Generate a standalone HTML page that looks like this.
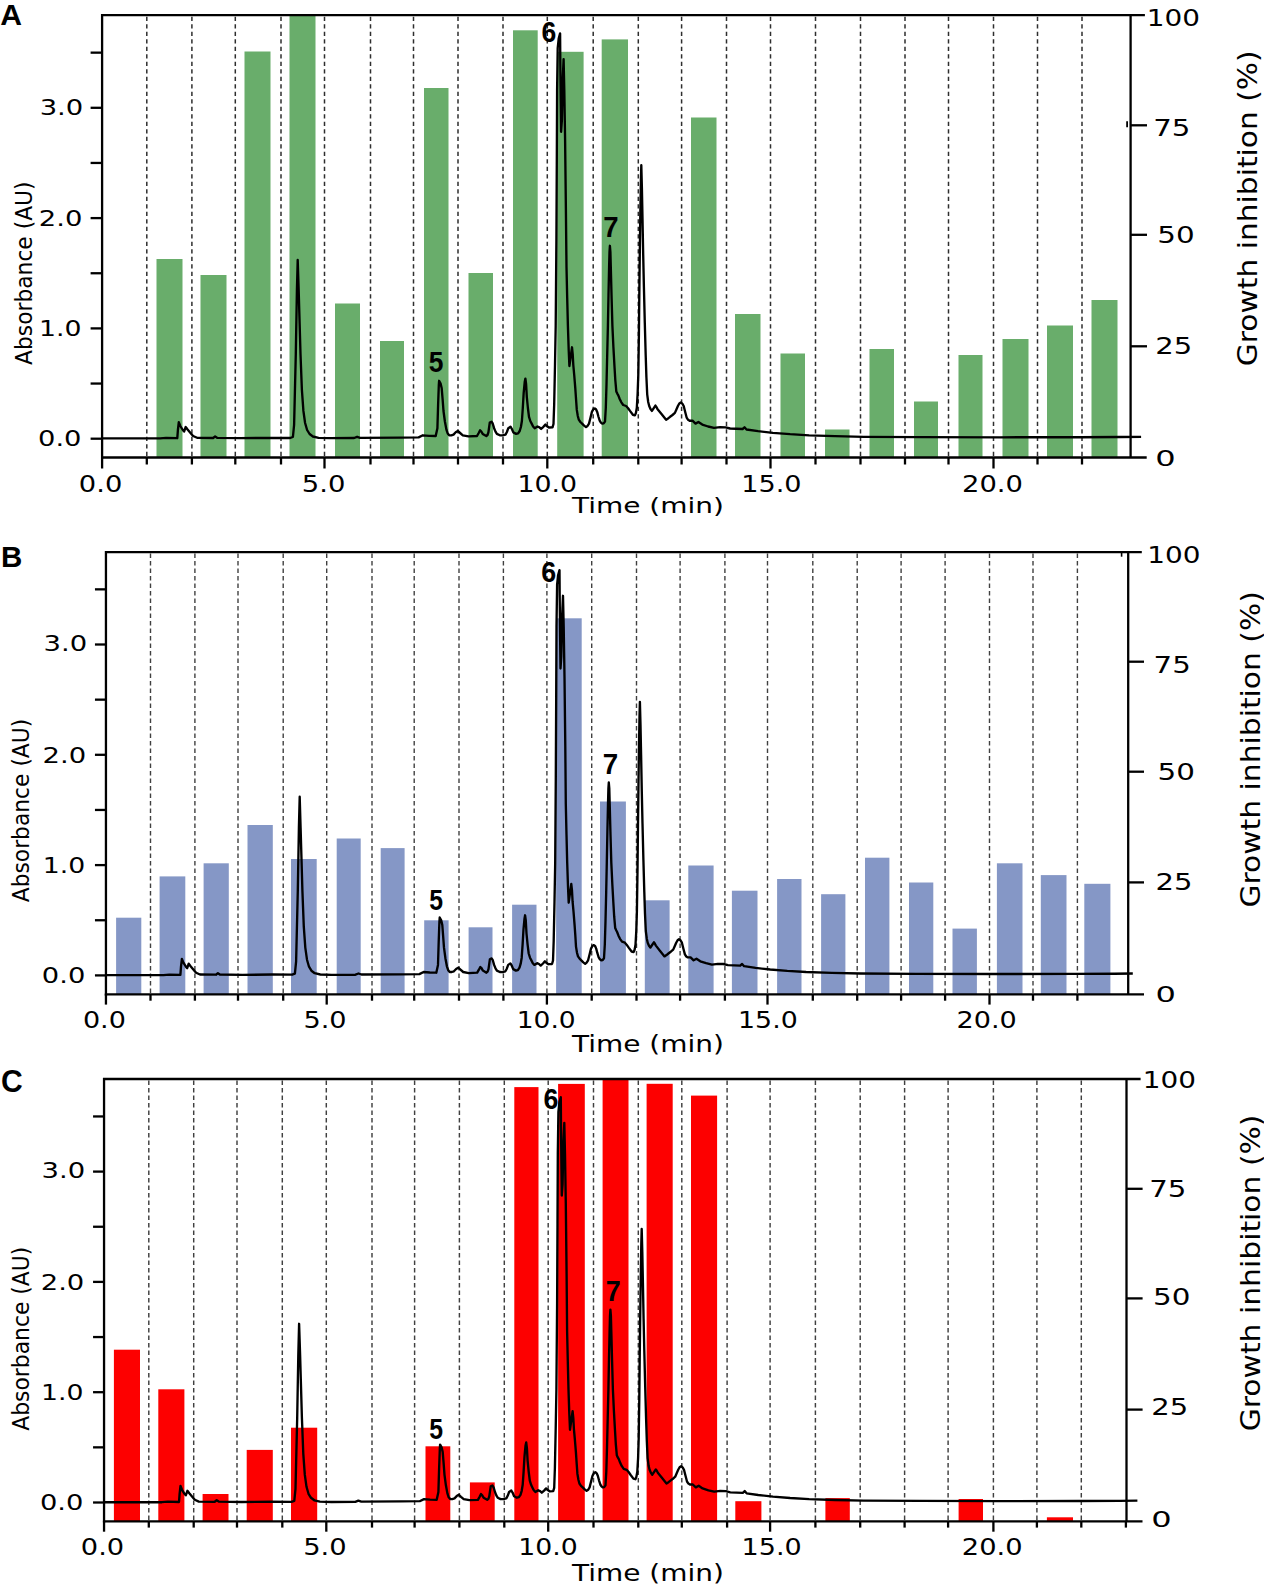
<!DOCTYPE html>
<html lang="en"><head><meta charset="utf-8"><title>HPLC chromatograms with growth inhibition</title>
<style>html,body{margin:0;padding:0;background:#fff}svg{display:block}</style></head><body>
<svg width="1264" height="1586" viewBox="0 0 1264 1586">
<rect width="1264" height="1586" fill="#fff"/>
<g id="panelA">
<g fill="#69ad6b">
<rect x="156.5" y="259.0" width="26.0" height="198.5"/>
<rect x="200.5" y="275.0" width="26.0" height="182.5"/>
<rect x="244.5" y="51.5" width="26.0" height="406.0"/>
<rect x="289.5" y="15.2" width="26.0" height="442.3"/>
<rect x="335.0" y="303.5" width="25.0" height="154.0"/>
<rect x="380.0" y="341.0" width="24.0" height="116.5"/>
<rect x="424.0" y="88.0" width="24.5" height="369.5"/>
<rect x="468.5" y="273.0" width="24.5" height="184.5"/>
<rect x="513.0" y="30.3" width="24.7" height="427.2"/>
<rect x="557.2" y="51.8" width="26.4" height="405.7"/>
<rect x="601.7" y="39.4" width="26.3" height="418.1"/>
<rect x="691.0" y="117.5" width="25.5" height="340.0"/>
<rect x="735.0" y="314.0" width="25.5" height="143.5"/>
<rect x="780.5" y="353.5" width="24.5" height="104.0"/>
<rect x="825.0" y="429.5" width="24.5" height="28.0"/>
<rect x="869.5" y="349.0" width="24.5" height="108.5"/>
<rect x="914.0" y="401.5" width="24.0" height="56.0"/>
<rect x="958.5" y="355.0" width="24.0" height="102.5"/>
<rect x="1002.5" y="339.0" width="26.0" height="118.5"/>
<rect x="1047.0" y="325.5" width="26.0" height="132.0"/>
<rect x="1091.5" y="300.0" width="26.0" height="157.5"/>
</g>
<g stroke="#2e2e2e" stroke-width="1.5" stroke-dasharray="4.4 3.1" fill="none">
<line x1="146.8" y1="16.7" x2="146.8" y2="457.5"/>
<line x1="191.9" y1="16.7" x2="191.9" y2="457.5"/>
<line x1="235.3" y1="16.7" x2="235.3" y2="457.5"/>
<line x1="281.0" y1="16.7" x2="281.0" y2="457.5"/>
<line x1="324.5" y1="16.7" x2="324.5" y2="457.5"/>
<line x1="370.5" y1="16.7" x2="370.5" y2="457.5"/>
<line x1="413.5" y1="16.7" x2="413.5" y2="457.5"/>
<line x1="458.0" y1="16.7" x2="458.0" y2="457.5"/>
<line x1="503.0" y1="16.7" x2="503.0" y2="457.5"/>
<line x1="547.3" y1="16.7" x2="547.3" y2="457.5"/>
<line x1="593.2" y1="16.7" x2="593.2" y2="457.5"/>
<line x1="638.3" y1="16.7" x2="638.3" y2="457.5"/>
<line x1="681.6" y1="16.7" x2="681.6" y2="457.5"/>
<line x1="726.5" y1="16.7" x2="726.5" y2="457.5"/>
<line x1="770.5" y1="16.7" x2="770.5" y2="457.5"/>
<line x1="815.5" y1="16.7" x2="815.5" y2="457.5"/>
<line x1="860.5" y1="16.7" x2="860.5" y2="457.5"/>
<line x1="905.0" y1="16.7" x2="905.0" y2="457.5"/>
<line x1="948.5" y1="16.7" x2="948.5" y2="457.5"/>
<line x1="993.5" y1="16.7" x2="993.5" y2="457.5"/>
<line x1="1037.5" y1="16.7" x2="1037.5" y2="457.5"/>
<line x1="1082.0" y1="16.7" x2="1082.0" y2="457.5"/>
</g>
<polyline points="102.1,438.4 160.1,438.4 166.1,437.9 177.3,438.2 177.9,430.0 178.8,422.2 180.3,426.0 182.8,430.0 184.1,431.5 185.7,427.0 187.6,429.5 190.1,432.5 193.1,436.0 197.1,437.8 213.1,438.0 215.1,436.5 217.1,437.8 240.1,438.2 270.1,437.8 290.1,438.0 292.9,437.0 294.1,425.0 295.8,354.0 296.9,291.0 297.7,260.0 298.7,291.0 300.5,354.0 301.9,390.0 303.4,410.9 305.1,423.0 307.1,430.0 309.6,434.0 312.9,436.5 318.6,437.8 330.1,438.2 354.1,438.0 357.1,436.8 360.1,437.8 400.1,437.6 418.6,437.4 422.9,435.3 429.1,435.8 435.7,436.0 437.4,428.2 438.1,405.0 438.8,385.4 439.1,380.8 440.6,383.5 441.7,388.3 442.6,399.0 443.5,411.0 444.9,421.5 446.4,429.6 447.7,433.5 449.2,435.3 451.3,435.3 453.5,434.6 455.7,432.3 457.8,431.0 460.1,433.0 462.8,435.3 468.5,436.4 477.0,436.0 478.7,433.0 480.1,430.3 481.3,431.5 482.7,433.9 486.3,436.0 487.5,435.0 488.4,432.4 489.8,422.5 491.5,421.7 492.7,423.5 494.1,428.2 495.5,431.6 496.9,433.9 499.8,435.3 502.6,435.4 505.5,434.6 506.9,432.0 508.3,428.2 510.5,426.7 511.9,429.0 513.3,432.4 516.1,433.9 518.1,433.4 519.7,431.0 520.9,427.0 521.9,421.0 522.8,408.0 523.7,392.6 524.7,382.0 525.4,378.6 526.1,384.0 526.8,396.8 527.9,408.0 529.0,416.8 530.3,421.0 531.8,423.9 533.1,426.5 534.7,428.2 537.5,426.5 539.4,427.3 541.1,428.9 543.4,426.8 545.4,424.6 547.1,426.3 548.9,427.5 552.5,427.3 553.5,424.0 554.2,404.0 555.0,365.0 555.7,325.9 556.4,240.0 556.8,160.0 557.1,90.0 557.7,48.0 558.7,38.5 560.1,33.4 560.3,60.0 560.7,100.0 561.1,131.8 561.9,120.0 562.7,80.0 563.6,59.1 564.3,90.0 565.1,140.0 565.9,210.0 566.5,267.3 567.2,298.0 567.9,325.9 568.7,350.0 569.4,366.0 570.5,358.0 572.0,347.3 572.7,354.0 573.3,365.0 574.3,376.0 575.3,388.4 576.1,400.0 576.8,409.9 577.8,416.0 578.8,419.7 580.4,422.0 582.1,423.6 584.1,425.6 586.0,427.1 587.5,426.0 589.0,423.6 590.4,418.0 591.9,411.9 593.3,409.3 594.8,408.4 596.1,409.5 597.2,411.9 598.4,416.5 599.7,420.7 600.9,422.6 602.2,423.6 603.7,423.3 605.0,421.6 605.8,408.0 606.5,384.5 607.2,355.0 607.9,325.9 608.5,295.0 609.1,267.3 609.5,252.0 609.9,245.8 610.4,252.0 610.8,267.3 611.6,298.0 612.4,325.9 613.4,347.0 614.4,365.0 615.3,380.0 616.3,391.4 617.3,393.6 618.3,395.3 619.7,399.0 621.2,402.1 623.2,405.0 626.1,406.0 628.1,408.2 630.0,410.9 632.9,414.8 634.9,415.4 635.9,413.0 636.8,408.0 637.6,394.0 638.3,374.7 638.9,335.0 639.4,286.8 639.9,245.0 640.4,208.6 640.9,180.0 641.3,165.2 641.9,188.0 642.5,218.4 643.2,255.0 643.9,286.8 644.8,323.0 645.7,355.2 646.4,377.0 647.2,394.3 648.2,402.0 649.2,406.0 650.5,409.0 651.9,410.9 653.6,408.3 655.4,405.6 656.4,407.0 657.4,408.9 661.3,413.8 666.1,419.7 668.1,418.4 670.1,416.8 672.5,415.0 674.9,412.9 676.4,409.5 677.9,406.0 679.3,403.5 680.8,402.5 682.3,403.6 683.7,406.0 685.2,412.0 686.7,417.7 688.1,419.8 689.6,420.7 692.5,420.7 695.5,423.6 698.4,422.0 702.3,424.6 708.1,426.5 714.0,427.9 720.1,427.1 725.6,427.3 730.1,428.5 742.6,429.0 744.5,427.3 746.5,429.5 758.1,431.2 772.9,432.8 790.1,434.2 809.1,435.3 835.1,436.2 863.9,436.8 920.1,437.1 1000.1,437.3 1080.1,437.2 1120.1,437.0 1141.1,436.8" fill="none" stroke="#000" stroke-width="2.35" stroke-linejoin="round" stroke-linecap="butt"/>
<g stroke="#000" stroke-width="2.3" fill="none" stroke-linecap="butt">
<path d="M102.10,458.60 V15.20 H1144.90"/>
<path d="M1130.60,15.20 V457.50"/>
<path d="M101.00,457.50 H1146.70"/>
<line x1="90.60" y1="438.70" x2="102.10" y2="438.70"/>
<line x1="90.60" y1="383.55" x2="102.10" y2="383.55"/>
<line x1="90.60" y1="328.40" x2="102.10" y2="328.40"/>
<line x1="90.60" y1="273.25" x2="102.10" y2="273.25"/>
<line x1="90.60" y1="218.10" x2="102.10" y2="218.10"/>
<line x1="90.60" y1="162.95" x2="102.10" y2="162.95"/>
<line x1="90.60" y1="107.80" x2="102.10" y2="107.80"/>
<line x1="90.60" y1="52.65" x2="102.10" y2="52.65"/>
<line x1="1130.60" y1="346.30" x2="1147.00" y2="346.30"/>
<line x1="1130.60" y1="234.80" x2="1147.00" y2="234.80"/>
<line x1="1130.60" y1="125.30" x2="1147.00" y2="125.30"/>
<line x1="102.10" y1="457.50" x2="102.10" y2="468.50"/>
<line x1="146.80" y1="457.50" x2="146.80" y2="464.50"/>
<line x1="191.90" y1="457.50" x2="191.90" y2="464.50"/>
<line x1="235.30" y1="457.50" x2="235.30" y2="464.50"/>
<line x1="281.00" y1="457.50" x2="281.00" y2="464.50"/>
<line x1="324.50" y1="457.50" x2="324.50" y2="468.50"/>
<line x1="370.50" y1="457.50" x2="370.50" y2="464.50"/>
<line x1="413.50" y1="457.50" x2="413.50" y2="464.50"/>
<line x1="458.00" y1="457.50" x2="458.00" y2="464.50"/>
<line x1="503.00" y1="457.50" x2="503.00" y2="464.50"/>
<line x1="547.30" y1="457.50" x2="547.30" y2="468.50"/>
<line x1="593.20" y1="457.50" x2="593.20" y2="464.50"/>
<line x1="638.30" y1="457.50" x2="638.30" y2="464.50"/>
<line x1="681.60" y1="457.50" x2="681.60" y2="464.50"/>
<line x1="726.50" y1="457.50" x2="726.50" y2="464.50"/>
<line x1="770.50" y1="457.50" x2="770.50" y2="468.50"/>
<line x1="815.50" y1="457.50" x2="815.50" y2="464.50"/>
<line x1="860.50" y1="457.50" x2="860.50" y2="464.50"/>
<line x1="905.00" y1="457.50" x2="905.00" y2="464.50"/>
<line x1="948.50" y1="457.50" x2="948.50" y2="464.50"/>
<line x1="993.50" y1="457.50" x2="993.50" y2="468.50"/>
<line x1="1037.50" y1="457.50" x2="1037.50" y2="464.50"/>
<line x1="1082.00" y1="457.50" x2="1082.00" y2="464.50"/>
<line x1="1127.10" y1="121.3" x2="1127.10" y2="127.2" stroke-width="1.8"/>
</g>
</g>
<g id="panelB">
<g fill="#8597c6">
<rect x="116.1" y="917.7" width="25.2" height="76.6"/>
<rect x="159.6" y="876.4" width="25.7" height="117.9"/>
<rect x="203.6" y="863.3" width="25.2" height="131.0"/>
<rect x="247.5" y="825.0" width="25.3" height="169.3"/>
<rect x="291.0" y="859.0" width="25.7" height="135.3"/>
<rect x="336.7" y="838.5" width="24.0" height="155.8"/>
<rect x="380.7" y="848.1" width="23.9" height="146.2"/>
<rect x="424.2" y="920.3" width="24.4" height="74.0"/>
<rect x="468.6" y="927.3" width="23.9" height="67.0"/>
<rect x="512.1" y="904.7" width="24.4" height="89.6"/>
<rect x="556.1" y="618.3" width="25.6" height="376.0"/>
<rect x="600.0" y="801.5" width="25.9" height="192.8"/>
<rect x="644.8" y="900.3" width="24.8" height="94.0"/>
<rect x="688.3" y="865.5" width="25.3" height="128.8"/>
<rect x="731.9" y="890.7" width="25.6" height="103.6"/>
<rect x="777.1" y="879.0" width="24.4" height="115.3"/>
<rect x="821.1" y="894.2" width="24.3" height="100.1"/>
<rect x="865.0" y="857.7" width="24.4" height="136.6"/>
<rect x="909.0" y="882.5" width="24.3" height="111.8"/>
<rect x="952.5" y="928.6" width="24.4" height="65.7"/>
<rect x="996.9" y="863.3" width="25.6" height="131.0"/>
<rect x="1040.8" y="875.1" width="25.7" height="119.2"/>
<rect x="1084.3" y="883.8" width="26.1" height="110.5"/>
</g>
<g stroke="#404040" stroke-width="1.4" stroke-dasharray="4.4 3.1" fill="none">
<line x1="150.5" y1="553.6" x2="150.5" y2="994.3"/>
<line x1="194.9" y1="553.6" x2="194.9" y2="994.3"/>
<line x1="238.0" y1="553.6" x2="238.0" y2="994.3"/>
<line x1="283.2" y1="553.6" x2="283.2" y2="994.3"/>
<line x1="326.7" y1="553.6" x2="326.7" y2="994.3"/>
<line x1="372.0" y1="553.6" x2="372.0" y2="994.3"/>
<line x1="414.2" y1="553.6" x2="414.2" y2="994.3"/>
<line x1="459.0" y1="553.6" x2="459.0" y2="994.3"/>
<line x1="503.4" y1="553.6" x2="503.4" y2="994.3"/>
<line x1="546.9" y1="553.6" x2="546.9" y2="994.3"/>
<line x1="591.7" y1="553.6" x2="591.7" y2="994.3"/>
<line x1="636.5" y1="553.6" x2="636.5" y2="994.3"/>
<line x1="680.1" y1="553.6" x2="680.1" y2="994.3"/>
<line x1="724.9" y1="553.6" x2="724.9" y2="994.3"/>
<line x1="767.5" y1="553.6" x2="767.5" y2="994.3"/>
<line x1="812.8" y1="553.6" x2="812.8" y2="994.3"/>
<line x1="857.2" y1="553.6" x2="857.2" y2="994.3"/>
<line x1="901.1" y1="553.6" x2="901.1" y2="994.3"/>
<line x1="945.1" y1="553.6" x2="945.1" y2="994.3"/>
<line x1="989.5" y1="553.6" x2="989.5" y2="994.3"/>
<line x1="1033.0" y1="553.6" x2="1033.0" y2="994.3"/>
<line x1="1077.4" y1="553.6" x2="1077.4" y2="994.3"/>
</g>
<polyline points="106.0,975.1 163.4,975.1 169.3,974.6 180.4,974.9 181.0,966.7 181.9,958.9 183.4,962.7 185.9,966.7 187.2,968.2 188.7,963.7 190.6,966.2 193.1,969.2 196.1,972.7 200.0,974.5 215.9,974.7 217.9,973.2 219.8,974.5 242.6,974.9 272.3,974.5 292.1,974.7 294.9,973.7 296.1,961.7 297.8,890.7 298.9,827.7 299.7,796.7 300.6,827.7 302.4,890.7 303.8,926.7 305.3,947.6 307.0,959.7 309.0,966.7 311.4,970.7 314.7,973.2 320.3,974.5 331.7,974.9 355.5,974.7 358.5,973.5 361.4,974.5 401.1,974.3 419.4,974.1 423.6,972.0 429.8,972.5 436.3,972.7 438.0,964.9 438.7,941.7 439.4,922.1 439.7,917.5 441.2,920.2 442.3,925.0 443.1,935.7 444.0,947.7 445.4,958.2 446.9,966.3 448.2,970.2 449.7,972.0 451.8,972.0 453.9,971.3 456.1,969.0 458.2,967.7 460.5,969.7 463.2,972.0 468.8,973.1 477.2,972.7 478.9,969.7 480.3,967.0 481.5,968.2 482.9,970.6 486.4,972.7 487.6,971.7 488.5,969.1 489.9,959.2 491.6,958.4 492.8,960.2 494.1,964.9 495.5,968.3 496.9,970.6 499.8,972.0 502.6,972.1 505.4,971.3 506.8,968.7 508.2,964.9 510.4,963.4 511.8,965.7 513.2,969.1 515.9,970.6 517.9,970.1 519.5,967.7 520.7,963.7 521.7,957.7 522.6,944.7 523.5,929.3 524.5,918.7 525.1,915.3 525.8,920.7 526.5,933.5 527.6,944.7 528.7,953.5 530.0,957.7 531.5,960.6 532.8,963.2 534.4,964.9 537.1,963.2 539.0,964.0 540.7,965.6 543.0,963.5 544.9,961.3 546.6,963.0 548.4,964.2 552.0,964.0 553.0,960.7 553.7,940.7 554.5,901.7 555.2,862.6 555.8,776.7 556.2,696.7 556.5,626.7 557.1,584.7 558.1,575.2 559.5,570.1 559.7,596.7 560.1,636.7 560.5,668.5 561.3,656.7 562.1,616.7 563.0,595.8 563.7,626.7 564.5,676.7 565.3,746.7 565.8,804.0 566.5,834.7 567.2,862.6 568.0,886.7 568.7,902.7 569.8,894.7 571.3,884.0 572.0,890.7 572.6,901.7 573.6,912.7 574.6,925.1 575.4,936.7 576.0,946.6 577.0,952.7 578.0,956.4 579.6,958.7 581.3,960.3 583.3,962.3 585.2,963.8 586.6,962.7 588.1,960.3 589.5,954.7 591.0,948.6 592.4,946.0 593.9,945.1 595.2,946.2 596.2,948.6 597.4,953.2 598.7,957.4 599.9,959.3 601.2,960.3 602.7,960.0 604.0,958.3 604.8,944.7 605.5,921.2 606.2,891.7 606.8,862.6 607.4,831.7 608.0,804.0 608.4,788.7 608.8,782.5 609.3,788.7 609.7,804.0 610.5,834.7 611.3,862.6 612.3,883.7 613.3,901.7 614.2,916.7 615.2,928.1 616.2,930.3 617.1,932.0 618.5,935.7 620.0,938.8 622.0,941.7 624.9,942.7 626.8,944.9 628.7,947.6 631.6,951.5 633.6,952.1 634.6,949.7 635.5,944.7 636.3,930.7 636.9,911.4 637.5,871.7 638.0,823.5 638.5,781.7 639.0,745.3 639.5,716.7 639.9,701.9 640.5,724.7 641.1,755.1 641.8,791.7 642.5,823.5 643.4,859.7 644.3,891.9 645.0,913.7 645.8,931.0 646.8,938.7 647.7,942.7 649.0,945.7 650.4,947.6 652.1,945.0 653.9,942.3 654.9,943.7 655.9,945.6 659.7,950.5 664.5,956.4 666.5,955.1 668.4,953.5 670.8,951.7 673.2,949.6 674.7,946.2 676.2,942.7 677.6,940.2 679.0,939.2 680.5,940.3 681.9,942.7 683.4,948.7 684.9,954.4 686.3,956.5 687.8,957.4 690.6,957.4 693.6,960.3 696.5,958.7 700.3,961.3 706.1,963.2 711.9,964.6 718.0,963.8 723.4,964.0 727.9,965.2 740.2,965.7 742.1,964.0 744.1,966.2 755.6,967.9 770.2,969.5 787.3,970.9 806.1,972.0 831.8,972.9 860.4,973.5 916.0,973.8 995.2,974.0 1074.5,973.9 1114.1,973.7 1132.8,973.5" fill="none" stroke="#000" stroke-width="2.35" stroke-linejoin="round" stroke-linecap="butt"/>
<g stroke="#000" stroke-width="2.3" fill="none" stroke-linecap="butt">
<path d="M105.95,995.40 V552.10 H1141.80"/>
<path d="M1128.20,552.10 V994.30"/>
<path d="M104.85,994.30 H1144.00"/>
<line x1="94.95" y1="975.40" x2="105.95" y2="975.40"/>
<line x1="94.95" y1="920.25" x2="105.95" y2="920.25"/>
<line x1="94.95" y1="865.10" x2="105.95" y2="865.10"/>
<line x1="94.95" y1="809.95" x2="105.95" y2="809.95"/>
<line x1="94.95" y1="754.80" x2="105.95" y2="754.80"/>
<line x1="94.95" y1="699.65" x2="105.95" y2="699.65"/>
<line x1="94.95" y1="644.50" x2="105.95" y2="644.50"/>
<line x1="94.95" y1="589.35" x2="105.95" y2="589.35"/>
<line x1="1128.20" y1="882.40" x2="1144.00" y2="882.40"/>
<line x1="1128.20" y1="771.70" x2="1144.00" y2="771.70"/>
<line x1="1128.20" y1="661.70" x2="1144.00" y2="661.70"/>
<line x1="105.95" y1="994.30" x2="105.95" y2="1004.60"/>
<line x1="150.50" y1="994.30" x2="150.50" y2="1000.70"/>
<line x1="194.90" y1="994.30" x2="194.90" y2="1000.70"/>
<line x1="238.00" y1="994.30" x2="238.00" y2="1000.70"/>
<line x1="283.20" y1="994.30" x2="283.20" y2="1000.70"/>
<line x1="326.70" y1="994.30" x2="326.70" y2="1004.60"/>
<line x1="372.00" y1="994.30" x2="372.00" y2="1000.70"/>
<line x1="414.20" y1="994.30" x2="414.20" y2="1000.70"/>
<line x1="459.00" y1="994.30" x2="459.00" y2="1000.70"/>
<line x1="503.40" y1="994.30" x2="503.40" y2="1000.70"/>
<line x1="546.90" y1="994.30" x2="546.90" y2="1004.60"/>
<line x1="591.70" y1="994.30" x2="591.70" y2="1000.70"/>
<line x1="636.50" y1="994.30" x2="636.50" y2="1000.70"/>
<line x1="680.10" y1="994.30" x2="680.10" y2="1000.70"/>
<line x1="724.90" y1="994.30" x2="724.90" y2="1000.70"/>
<line x1="767.50" y1="994.30" x2="767.50" y2="1004.60"/>
<line x1="812.80" y1="994.30" x2="812.80" y2="1000.70"/>
<line x1="857.20" y1="994.30" x2="857.20" y2="1000.70"/>
<line x1="901.10" y1="994.30" x2="901.10" y2="1000.70"/>
<line x1="945.10" y1="994.30" x2="945.10" y2="1000.70"/>
<line x1="989.50" y1="994.30" x2="989.50" y2="1004.60"/>
<line x1="1033.00" y1="994.30" x2="1033.00" y2="1000.70"/>
<line x1="1077.40" y1="994.30" x2="1077.40" y2="1000.70"/>
<line x1="1121.6" y1="552.10" x2="1121.6" y2="556.70" stroke-width="1.6"/>
</g>
</g>
<g id="panelC">
<g fill="#fd0000">
<rect x="113.9" y="1349.7" width="26.1" height="171.6"/>
<rect x="158.3" y="1389.3" width="26.1" height="132.0"/>
<rect x="202.6" y="1494.0" width="25.9" height="27.3"/>
<rect x="246.7" y="1449.9" width="26.1" height="71.4"/>
<rect x="291.0" y="1427.7" width="26.2" height="93.6"/>
<rect x="425.5" y="1446.3" width="24.8" height="75.0"/>
<rect x="469.9" y="1482.4" width="24.8" height="38.9"/>
<rect x="514.3" y="1087.1" width="24.2" height="434.2"/>
<rect x="558.1" y="1083.9" width="26.7" height="437.4"/>
<rect x="602.6" y="1079.0" width="25.9" height="442.3"/>
<rect x="646.6" y="1083.8" width="26.1" height="437.5"/>
<rect x="691.0" y="1095.6" width="26.1" height="425.7"/>
<rect x="735.3" y="1501.2" width="26.1" height="20.1"/>
<rect x="825.4" y="1498.1" width="24.4" height="23.2"/>
<rect x="958.6" y="1499.0" width="24.4" height="22.3"/>
<rect x="1046.9" y="1517.3" width="26.1" height="4.0"/>
</g>
<g stroke="#404040" stroke-width="1.45" stroke-dasharray="4.4 3.1" fill="none">
<line x1="148.8" y1="1080.5" x2="148.8" y2="1521.3"/>
<line x1="193.7" y1="1080.5" x2="193.7" y2="1521.3"/>
<line x1="237.0" y1="1080.5" x2="237.0" y2="1521.3"/>
<line x1="282.3" y1="1080.5" x2="282.3" y2="1521.3"/>
<line x1="326.3" y1="1080.5" x2="326.3" y2="1521.3"/>
<line x1="372.0" y1="1080.5" x2="372.0" y2="1521.3"/>
<line x1="414.6" y1="1080.5" x2="414.6" y2="1521.3"/>
<line x1="459.4" y1="1080.5" x2="459.4" y2="1521.3"/>
<line x1="504.3" y1="1080.5" x2="504.3" y2="1521.3"/>
<line x1="548.2" y1="1080.5" x2="548.2" y2="1521.3"/>
<line x1="593.5" y1="1080.5" x2="593.5" y2="1521.3"/>
<line x1="638.3" y1="1080.5" x2="638.3" y2="1521.3"/>
<line x1="681.8" y1="1080.5" x2="681.8" y2="1521.3"/>
<line x1="727.1" y1="1080.5" x2="727.1" y2="1521.3"/>
<line x1="770.1" y1="1080.5" x2="770.1" y2="1521.3"/>
<line x1="815.4" y1="1080.5" x2="815.4" y2="1521.3"/>
<line x1="860.2" y1="1080.5" x2="860.2" y2="1521.3"/>
<line x1="904.6" y1="1080.5" x2="904.6" y2="1521.3"/>
<line x1="948.1" y1="1080.5" x2="948.1" y2="1521.3"/>
<line x1="993.4" y1="1080.5" x2="993.4" y2="1521.3"/>
<line x1="1036.9" y1="1080.5" x2="1036.9" y2="1521.3"/>
<line x1="1081.3" y1="1080.5" x2="1081.3" y2="1521.3"/>
</g>
<polyline points="104.0,1502.2 161.9,1502.2 167.9,1501.7 179.0,1502.0 179.6,1493.8 180.5,1486.0 182.0,1489.8 184.5,1493.8 185.8,1495.3 187.4,1490.8 189.3,1493.3 191.8,1496.3 194.8,1499.8 198.8,1501.6 214.7,1501.8 216.7,1500.3 218.7,1501.6 241.7,1502.0 271.6,1501.6 291.5,1501.8 294.3,1500.8 295.5,1488.8 297.2,1417.8 298.3,1354.8 299.1,1323.8 300.1,1354.8 301.9,1417.8 303.3,1453.8 304.8,1474.7 306.5,1486.8 308.5,1493.8 311.0,1497.8 314.3,1500.3 319.9,1501.6 331.4,1502.0 355.3,1501.8 358.3,1500.6 361.3,1501.6 401.2,1501.4 419.7,1501.2 424.0,1499.1 430.1,1499.6 436.7,1499.8 438.4,1492.0 439.1,1468.8 439.8,1449.2 440.1,1444.6 441.6,1447.3 442.7,1452.1 443.6,1462.8 444.5,1474.8 445.9,1485.3 447.4,1493.4 448.7,1497.3 450.2,1499.1 452.3,1499.1 454.5,1498.4 456.7,1496.1 458.8,1494.8 461.0,1496.8 463.7,1499.1 469.4,1500.2 477.9,1499.8 479.6,1496.8 481.0,1494.1 482.2,1495.3 483.6,1497.7 487.2,1499.8 488.4,1498.8 489.3,1496.2 490.7,1486.3 492.4,1485.5 493.6,1487.3 495.0,1492.0 496.3,1495.4 497.7,1497.7 500.6,1499.1 503.4,1499.2 506.3,1498.4 507.7,1495.8 509.1,1492.0 511.3,1490.5 512.7,1492.8 514.1,1496.2 516.9,1497.7 518.9,1497.2 520.5,1494.8 521.7,1490.8 522.7,1484.8 523.6,1471.8 524.5,1456.4 525.5,1445.8 526.2,1442.4 526.9,1447.8 527.6,1460.6 528.7,1471.8 529.8,1480.6 531.1,1484.8 532.5,1487.7 533.8,1490.3 535.4,1492.0 538.2,1490.3 540.1,1491.1 541.8,1492.7 544.1,1490.6 546.1,1488.4 547.8,1490.1 549.6,1491.3 553.2,1491.1 554.2,1487.8 554.9,1467.8 555.7,1428.8 556.4,1389.7 557.1,1303.8 557.5,1223.8 557.8,1153.8 558.4,1111.8 559.4,1102.3 560.8,1097.2 561.0,1123.8 561.4,1163.8 561.8,1195.6 562.6,1183.8 563.4,1143.8 564.3,1122.9 565.0,1153.8 565.8,1203.8 566.6,1273.8 567.1,1331.1 567.8,1361.8 568.5,1389.7 569.3,1413.8 570.0,1429.8 571.1,1421.8 572.6,1411.1 573.3,1417.8 573.9,1428.8 574.9,1439.8 575.9,1452.2 576.7,1463.8 577.4,1473.7 578.4,1479.8 579.4,1483.5 581.0,1485.8 582.7,1487.4 584.7,1489.4 586.6,1490.9 588.1,1489.8 589.6,1487.4 591.0,1481.8 592.5,1475.7 593.9,1473.1 595.4,1472.2 596.7,1473.3 597.8,1475.7 599.0,1480.3 600.3,1484.5 601.5,1486.4 602.7,1487.4 604.2,1487.1 605.5,1485.4 606.3,1471.8 607.0,1448.3 607.7,1418.8 608.4,1389.7 609.0,1358.8 609.6,1331.1 610.0,1315.8 610.4,1309.6 610.9,1315.8 611.3,1331.1 612.1,1361.8 612.9,1389.7 613.9,1410.8 614.9,1428.8 615.8,1443.8 616.8,1455.2 617.8,1457.4 618.8,1459.1 620.2,1462.8 621.7,1465.9 623.7,1468.8 626.6,1469.8 628.6,1472.0 630.5,1474.7 633.4,1478.6 635.4,1479.2 636.4,1476.8 637.3,1471.8 638.1,1457.8 638.7,1438.5 639.3,1398.8 639.8,1350.6 640.3,1308.8 640.8,1272.4 641.3,1243.8 641.7,1229.0 642.3,1251.8 642.9,1282.2 643.6,1318.8 644.3,1350.6 645.2,1386.8 646.1,1419.0 646.8,1440.8 647.6,1458.1 648.6,1465.8 649.6,1469.8 650.9,1472.8 652.3,1474.7 654.0,1472.1 655.8,1469.4 656.8,1470.8 657.8,1472.7 661.7,1477.6 666.5,1483.5 668.5,1482.2 670.5,1480.6 672.9,1478.8 675.2,1476.7 676.7,1473.3 678.2,1469.8 679.6,1467.3 681.1,1466.3 682.6,1467.4 684.0,1469.8 685.5,1475.8 687.0,1481.5 688.4,1483.6 689.9,1484.5 692.8,1484.5 695.8,1487.4 698.7,1485.8 702.6,1488.4 708.4,1490.3 714.2,1491.7 720.3,1490.9 725.8,1491.1 730.3,1492.3 742.8,1492.8 744.7,1491.1 746.6,1493.3 758.2,1495.0 773.0,1496.6 790.1,1498.0 809.1,1499.1 835.0,1500.0 863.7,1500.6 919.8,1500.9 999.5,1501.1 1079.3,1501.0 1119.2,1500.8 1137.4,1500.6" fill="none" stroke="#000" stroke-width="2.35" stroke-linejoin="round" stroke-linecap="butt"/>
<g stroke="#000" stroke-width="2.3" fill="none" stroke-linecap="butt">
<path d="M104.05,1522.40 V1079.00 H1140.60"/>
<path d="M1126.50,1079.00 V1521.30"/>
<path d="M102.95,1521.30 H1142.50"/>
<line x1="93.05" y1="1502.50" x2="104.05" y2="1502.50"/>
<line x1="93.05" y1="1447.35" x2="104.05" y2="1447.35"/>
<line x1="93.05" y1="1392.20" x2="104.05" y2="1392.20"/>
<line x1="93.05" y1="1337.05" x2="104.05" y2="1337.05"/>
<line x1="93.05" y1="1281.90" x2="104.05" y2="1281.90"/>
<line x1="93.05" y1="1226.75" x2="104.05" y2="1226.75"/>
<line x1="93.05" y1="1171.60" x2="104.05" y2="1171.60"/>
<line x1="93.05" y1="1116.45" x2="104.05" y2="1116.45"/>
<line x1="1126.50" y1="1409.60" x2="1142.60" y2="1409.60"/>
<line x1="1126.50" y1="1298.40" x2="1142.60" y2="1298.40"/>
<line x1="1126.50" y1="1188.80" x2="1142.60" y2="1188.80"/>
<line x1="104.05" y1="1521.30" x2="104.05" y2="1531.70"/>
<line x1="148.80" y1="1521.30" x2="148.80" y2="1527.60"/>
<line x1="193.70" y1="1521.30" x2="193.70" y2="1527.60"/>
<line x1="237.00" y1="1521.30" x2="237.00" y2="1527.60"/>
<line x1="282.30" y1="1521.30" x2="282.30" y2="1527.60"/>
<line x1="326.30" y1="1521.30" x2="326.30" y2="1531.70"/>
<line x1="372.00" y1="1521.30" x2="372.00" y2="1527.60"/>
<line x1="414.60" y1="1521.30" x2="414.60" y2="1527.60"/>
<line x1="459.40" y1="1521.30" x2="459.40" y2="1527.60"/>
<line x1="504.30" y1="1521.30" x2="504.30" y2="1527.60"/>
<line x1="548.20" y1="1521.30" x2="548.20" y2="1531.70"/>
<line x1="593.50" y1="1521.30" x2="593.50" y2="1527.60"/>
<line x1="638.30" y1="1521.30" x2="638.30" y2="1527.60"/>
<line x1="681.80" y1="1521.30" x2="681.80" y2="1527.60"/>
<line x1="727.10" y1="1521.30" x2="727.10" y2="1527.60"/>
<line x1="770.10" y1="1521.30" x2="770.10" y2="1531.70"/>
<line x1="815.40" y1="1521.30" x2="815.40" y2="1527.60"/>
<line x1="860.20" y1="1521.30" x2="860.20" y2="1527.60"/>
<line x1="904.60" y1="1521.30" x2="904.60" y2="1527.60"/>
<line x1="948.10" y1="1521.30" x2="948.10" y2="1527.60"/>
<line x1="993.40" y1="1521.30" x2="993.40" y2="1531.70"/>
<line x1="1036.90" y1="1521.30" x2="1036.90" y2="1527.60"/>
<line x1="1081.30" y1="1521.30" x2="1081.30" y2="1527.60"/>
<line x1="1125.90" y1="1521.30" x2="1125.90" y2="1527.60"/>
</g>
</g>
<g id="labels">
<text transform="matrix(0.3015 0 0 0.2986 0.15 24.90)" font-family="'Liberation Sans', sans-serif" font-size="100" font-weight="bold" fill="#000">A</text>
<text transform="matrix(0.2951 0 0 0.3014 0.98 566.80)" font-family="'Liberation Sans', sans-serif" font-size="100" font-weight="bold" fill="#000">B</text>
<text transform="matrix(0.3008 0 0 0.3056 0.90 1091.69)" font-family="'Liberation Sans', sans-serif" font-size="100" font-weight="bold" fill="#000">C</text>
<text transform="matrix(0.2733 0 0 0.2199 38.02 446.17)" font-family="'DejaVu Sans', 'Liberation Sans', sans-serif" font-size="100" font-weight="normal" fill="#000">0.0</text>
<text transform="matrix(0.2671 0 0 0.2199 38.96 336.27)" font-family="'DejaVu Sans', 'Liberation Sans', sans-serif" font-size="100" font-weight="normal" fill="#000">1.0</text>
<text transform="matrix(0.2745 0 0 0.2199 38.74 225.87)" font-family="'DejaVu Sans', 'Liberation Sans', sans-serif" font-size="100" font-weight="normal" fill="#000">2.0</text>
<text transform="matrix(0.2745 0 0 0.2199 39.64 114.67)" font-family="'DejaVu Sans', 'Liberation Sans', sans-serif" font-size="100" font-weight="normal" fill="#000">3.0</text>
<text transform="matrix(0.2733 0 0 0.2212 78.82 491.67)" font-family="'DejaVu Sans', 'Liberation Sans', sans-serif" font-size="100" font-weight="normal" fill="#000">0.0</text>
<text transform="matrix(0.2745 0 0 0.2212 301.74 491.67)" font-family="'DejaVu Sans', 'Liberation Sans', sans-serif" font-size="100" font-weight="normal" fill="#000">5.0</text>
<text transform="matrix(0.2678 0 0 0.2212 517.45 491.67)" font-family="'DejaVu Sans', 'Liberation Sans', sans-serif" font-size="100" font-weight="normal" fill="#000">10.0</text>
<text transform="matrix(0.2712 0 0 0.2212 741.22 491.67)" font-family="'DejaVu Sans', 'Liberation Sans', sans-serif" font-size="100" font-weight="normal" fill="#000">15.0</text>
<text transform="matrix(0.2739 0 0 0.2212 962.05 491.67)" font-family="'DejaVu Sans', 'Liberation Sans', sans-serif" font-size="100" font-weight="normal" fill="#000">20.0</text>
<text transform="matrix(0.2790 0 0 0.2265 1146.83 26.26)" font-family="'DejaVu Sans', 'Liberation Sans', sans-serif" font-size="100" font-weight="normal" fill="#000">100</text>
<text transform="matrix(0.2923 0 0 0.2228 1153.26 136.17)" font-family="'DejaVu Sans', 'Liberation Sans', sans-serif" font-size="100" font-weight="normal" fill="#000">75</text>
<text transform="matrix(0.2938 0 0 0.2265 1157.20 243.36)" font-family="'DejaVu Sans', 'Liberation Sans', sans-serif" font-size="100" font-weight="normal" fill="#000">50</text>
<text transform="matrix(0.2910 0 0 0.2252 1155.32 353.76)" font-family="'DejaVu Sans', 'Liberation Sans', sans-serif" font-size="100" font-weight="normal" fill="#000">25</text>
<text transform="matrix(0.3208 0 0 0.2199 1155.31 465.67)" font-family="'DejaVu Sans', 'Liberation Sans', sans-serif" font-size="100" font-weight="normal" fill="#000">0</text>
<text transform="matrix(0.2798 0 0 0.2191 571.94 512.85)" font-family="'DejaVu Sans', 'Liberation Sans', sans-serif" font-size="100" font-weight="normal" fill="#000">Time (min)</text>
<text transform="matrix(0 -0.2179 0.2382 0 32.00 364.92)" font-family="'DejaVu Sans', 'Liberation Sans', sans-serif" font-size="100" font-weight="normal" fill="#000">Absorbance (AU)</text>
<text transform="matrix(0 -0.2970 0.2618 0 1257.10 366.23)" font-family="'DejaVu Sans', 'Liberation Sans', sans-serif" font-size="100" font-weight="normal" fill="#000">Growth inhibition (%)</text>
<text transform="matrix(0.2733 0 0 0.2199 41.87 982.87)" font-family="'DejaVu Sans', 'Liberation Sans', sans-serif" font-size="100" font-weight="normal" fill="#000">0.0</text>
<text transform="matrix(0.2671 0 0 0.2199 42.81 872.97)" font-family="'DejaVu Sans', 'Liberation Sans', sans-serif" font-size="100" font-weight="normal" fill="#000">1.0</text>
<text transform="matrix(0.2745 0 0 0.2199 42.59 762.57)" font-family="'DejaVu Sans', 'Liberation Sans', sans-serif" font-size="100" font-weight="normal" fill="#000">2.0</text>
<text transform="matrix(0.2745 0 0 0.2199 43.49 651.37)" font-family="'DejaVu Sans', 'Liberation Sans', sans-serif" font-size="100" font-weight="normal" fill="#000">3.0</text>
<text transform="matrix(0.2703 0 0 0.2212 82.93 1028.47)" font-family="'DejaVu Sans', 'Liberation Sans', sans-serif" font-size="100" font-weight="normal" fill="#000">0.0</text>
<text transform="matrix(0.2715 0 0 0.2212 303.40 1028.47)" font-family="'DejaVu Sans', 'Liberation Sans', sans-serif" font-size="100" font-weight="normal" fill="#000">5.0</text>
<text transform="matrix(0.2649 0 0 0.2212 516.74 1028.47)" font-family="'DejaVu Sans', 'Liberation Sans', sans-serif" font-size="100" font-weight="normal" fill="#000">10.0</text>
<text transform="matrix(0.2682 0 0 0.2212 738.04 1028.47)" font-family="'DejaVu Sans', 'Liberation Sans', sans-serif" font-size="100" font-weight="normal" fill="#000">15.0</text>
<text transform="matrix(0.2708 0 0 0.2212 956.44 1028.47)" font-family="'DejaVu Sans', 'Liberation Sans', sans-serif" font-size="100" font-weight="normal" fill="#000">20.0</text>
<text transform="matrix(0.2790 0 0 0.2265 1147.13 562.86)" font-family="'DejaVu Sans', 'Liberation Sans', sans-serif" font-size="100" font-weight="normal" fill="#000">100</text>
<text transform="matrix(0.2923 0 0 0.2228 1153.56 672.77)" font-family="'DejaVu Sans', 'Liberation Sans', sans-serif" font-size="100" font-weight="normal" fill="#000">75</text>
<text transform="matrix(0.2938 0 0 0.2265 1157.50 779.96)" font-family="'DejaVu Sans', 'Liberation Sans', sans-serif" font-size="100" font-weight="normal" fill="#000">50</text>
<text transform="matrix(0.2910 0 0 0.2252 1155.62 890.36)" font-family="'DejaVu Sans', 'Liberation Sans', sans-serif" font-size="100" font-weight="normal" fill="#000">25</text>
<text transform="matrix(0.3208 0 0 0.2199 1155.61 1002.27)" font-family="'DejaVu Sans', 'Liberation Sans', sans-serif" font-size="100" font-weight="normal" fill="#000">0</text>
<text transform="matrix(0.2798 0 0 0.2281 571.94 1051.83)" font-family="'DejaVu Sans', 'Liberation Sans', sans-serif" font-size="100" font-weight="normal" fill="#000">Time (min)</text>
<text transform="matrix(0 -0.2179 0.2382 0 29.40 902.22)" font-family="'DejaVu Sans', 'Liberation Sans', sans-serif" font-size="100" font-weight="normal" fill="#000">Absorbance (AU)</text>
<text transform="matrix(0 -0.2975 0.2629 0 1259.98 907.54)" font-family="'DejaVu Sans', 'Liberation Sans', sans-serif" font-size="100" font-weight="normal" fill="#000">Growth inhibition (%)</text>
<text transform="matrix(0.2733 0 0 0.2199 39.97 1509.97)" font-family="'DejaVu Sans', 'Liberation Sans', sans-serif" font-size="100" font-weight="normal" fill="#000">0.0</text>
<text transform="matrix(0.2671 0 0 0.2199 40.91 1400.07)" font-family="'DejaVu Sans', 'Liberation Sans', sans-serif" font-size="100" font-weight="normal" fill="#000">1.0</text>
<text transform="matrix(0.2745 0 0 0.2199 40.69 1289.67)" font-family="'DejaVu Sans', 'Liberation Sans', sans-serif" font-size="100" font-weight="normal" fill="#000">2.0</text>
<text transform="matrix(0.2745 0 0 0.2199 41.59 1178.47)" font-family="'DejaVu Sans', 'Liberation Sans', sans-serif" font-size="100" font-weight="normal" fill="#000">3.0</text>
<text transform="matrix(0.2726 0 0 0.2212 80.83 1555.47)" font-family="'DejaVu Sans', 'Liberation Sans', sans-serif" font-size="100" font-weight="normal" fill="#000">0.0</text>
<text transform="matrix(0.2738 0 0 0.2212 303.19 1555.47)" font-family="'DejaVu Sans', 'Liberation Sans', sans-serif" font-size="100" font-weight="normal" fill="#000">5.0</text>
<text transform="matrix(0.2671 0 0 0.2212 518.37 1555.47)" font-family="'DejaVu Sans', 'Liberation Sans', sans-serif" font-size="100" font-weight="normal" fill="#000">10.0</text>
<text transform="matrix(0.2705 0 0 0.2212 741.57 1555.47)" font-family="'DejaVu Sans', 'Liberation Sans', sans-serif" font-size="100" font-weight="normal" fill="#000">15.0</text>
<text transform="matrix(0.2732 0 0 0.2212 961.85 1555.47)" font-family="'DejaVu Sans', 'Liberation Sans', sans-serif" font-size="100" font-weight="normal" fill="#000">20.0</text>
<text transform="matrix(0.2790 0 0 0.2265 1142.73 1087.56)" font-family="'DejaVu Sans', 'Liberation Sans', sans-serif" font-size="100" font-weight="normal" fill="#000">100</text>
<text transform="matrix(0.2923 0 0 0.2228 1149.16 1197.47)" font-family="'DejaVu Sans', 'Liberation Sans', sans-serif" font-size="100" font-weight="normal" fill="#000">75</text>
<text transform="matrix(0.2938 0 0 0.2265 1153.10 1304.66)" font-family="'DejaVu Sans', 'Liberation Sans', sans-serif" font-size="100" font-weight="normal" fill="#000">50</text>
<text transform="matrix(0.2910 0 0 0.2252 1151.22 1415.06)" font-family="'DejaVu Sans', 'Liberation Sans', sans-serif" font-size="100" font-weight="normal" fill="#000">25</text>
<text transform="matrix(0.3208 0 0 0.2199 1151.21 1526.97)" font-family="'DejaVu Sans', 'Liberation Sans', sans-serif" font-size="100" font-weight="normal" fill="#000">0</text>
<text transform="matrix(0.2798 0 0 0.2236 571.94 1581.39)" font-family="'DejaVu Sans', 'Liberation Sans', sans-serif" font-size="100" font-weight="normal" fill="#000">Time (min)</text>
<text transform="matrix(0 -0.2186 0.2382 0 29.40 1430.82)" font-family="'DejaVu Sans', 'Liberation Sans', sans-serif" font-size="100" font-weight="normal" fill="#000">Absorbance (AU)</text>
<text transform="matrix(0 -0.2980 0.2584 0 1259.64 1431.34)" font-family="'DejaVu Sans', 'Liberation Sans', sans-serif" font-size="100" font-weight="normal" fill="#000">Growth inhibition (%)</text>
<text transform="matrix(0.2640 0 0 0.2929 428.81 372.41)" font-family="'Liberation Sans', sans-serif" font-size="100" font-weight="bold" fill="#000">5</text>
<text transform="matrix(0.2660 0 0 0.2930 541.47 42.31)" font-family="'Liberation Sans', sans-serif" font-size="100" font-weight="bold" fill="#000">6</text>
<text transform="matrix(0.2753 0 0 0.2957 603.16 237.20)" font-family="'Liberation Sans', sans-serif" font-size="100" font-weight="bold" fill="#000">7</text>
<text transform="matrix(0.2480 0 0 0.2900 429.16 909.61)" font-family="'Liberation Sans', sans-serif" font-size="100" font-weight="bold" fill="#000">5</text>
<text transform="matrix(0.2680 0 0 0.2986 541.26 582.10)" font-family="'Liberation Sans', sans-serif" font-size="100" font-weight="bold" fill="#000">6</text>
<text transform="matrix(0.2774 0 0 0.3014 602.75 774.20)" font-family="'Liberation Sans', sans-serif" font-size="100" font-weight="bold" fill="#000">7</text>
<text transform="matrix(0.2480 0 0 0.3000 429.16 1438.60)" font-family="'Liberation Sans', sans-serif" font-size="100" font-weight="bold" fill="#000">5</text>
<text transform="matrix(0.2680 0 0 0.2944 543.56 1108.81)" font-family="'Liberation Sans', sans-serif" font-size="100" font-weight="bold" fill="#000">6</text>
<text transform="matrix(0.2688 0 0 0.2899 605.69 1300.90)" font-family="'Liberation Sans', sans-serif" font-size="100" font-weight="bold" fill="#000">7</text>
</g>
</svg></body></html>
